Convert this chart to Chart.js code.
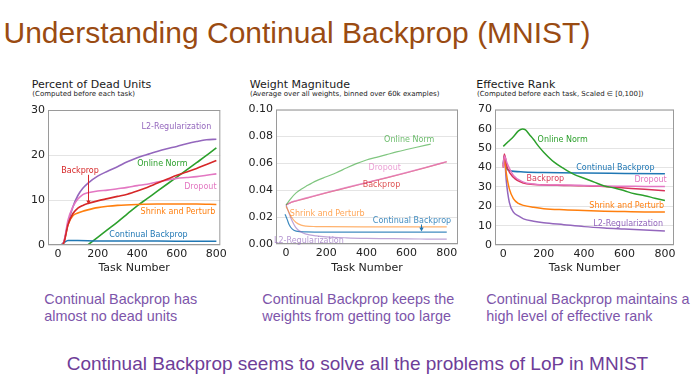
<!DOCTYPE html>
<html><head><meta charset="utf-8">
<script src="https://cdn.jsdelivr.net/npm/chart.js@4.4.1/dist/chart.umd.min.js"></script>
<style>
html,body{margin:0;padding:0;background:#fff;width:700px;height:382px;overflow:hidden;position:relative;}
.t{position:absolute;white-space:nowrap;}
.ct{font:11px/11px 'DejaVu Sans',sans-serif;color:#1a1a1a;top:79px;}
.cs{font:7px/7px 'DejaVu Sans',sans-serif;color:#222;top:91px;}
.cap{font:14.4px/16.7px 'Liberation Sans',Arial,sans-serif;color:#7d55aa;top:291px;}
canvas{position:absolute;}
</style></head><body>
<div class="t" style="left:3.5px;top:18.3px;font:30px/30px 'Liberation Sans',Arial,sans-serif;color:#9a4b12;">Understanding Continual Backprop (MNIST)</div>

<div class="t ct" style="left:31.7px">Percent of Dead Units</div>
<div class="t cs" style="left:32.3px">(Computed before each task)</div>
<div class="t ct" style="left:249.8px">Weight Magnitude</div>
<div class="t cs" style="left:250px">(Average over all weights, binned over 60k examples)</div>
<div class="t ct" style="left:476.3px">Effective Rank</div>
<div class="t cs" style="left:477px">(Computed before each task, Scaled ∈ [0,100])</div>

<canvas id="c1" width="215" height="180" style="left:15px;top:100px;width:215px;height:180px"></canvas>
<canvas id="c2" width="228" height="180" style="left:240px;top:100px;width:228px;height:180px"></canvas>
<canvas id="c3" width="215" height="180" style="left:470px;top:100px;width:215px;height:180px"></canvas>

<div class="t cap" style="left:44.3px">Continual Backprop has<br>almost no dead units</div>
<div class="t cap" style="left:262.3px">Continual Backprop keeps the<br>weights from getting too large</div>
<div class="t cap" style="left:486.3px">Continual Backprop maintains a<br>high level of effective rank</div>
<div class="t" style="left:66.7px;top:354px;font:19px/19px 'Liberation Sans',Arial,sans-serif;color:#6e3d98;">Continual Backprop seems to solve all the problems of LoP in MNIST</div>

<script>
// ---------- data ----------
const taskTicks = [0, 200, 400, 600, 800];

// Percent of dead units
const deadTicks = [0, 10, 20, 30];
const deadBackprop = [[20,0],[30,0.6],[50,4.5],[75,7],[100,8.2],[125,8.8],[150,9.2],[200,9.8],[250,10.3],[300,10.8],[350,11.3],[400,12],[450,12.8],[500,13.7],[550,14.6],[600,15.5],[650,16.2],[700,17],[750,17.9],[800,18.8]];
const deadDropout = [[20,0],[30,0.8],[50,5.5],[75,8.5],[100,10.2],[125,11.2],[150,11.6],[200,12],[250,12.2],[300,12.5],[350,12.8],[400,13.2],[450,13.5],[500,14],[550,14.4],[600,14.8],[650,15],[700,15.2],[750,15.5],[800,15.8]];
const deadL2 = [[20,0],[30,0.8],[50,4.8],[75,8.5],[100,11],[125,12.6],[150,13.7],[200,15.3],[250,16.4],[300,17.4],[350,18.5],[400,19.4],[450,20.1],[500,20.8],[550,21.4],[600,21.9],[650,22.5],[700,23],[750,23.4],[800,23.5]];
const deadShrink = [[20,0],[30,0.6],[50,4.5],[75,6.5],[100,7.1],[125,7.5],[150,7.8],[200,8.3],[250,8.6],[300,8.8],[400,9],[500,9.1],[600,9.1],[700,9.1],[800,9]];
const deadContinual = [[15,0],[30,0.5],[50,1.0],[100,1.0],[200,0.9],[400,0.9],[600,0.85],[800,0.85]];
const deadOnline = [[150,0],[200,1.7],[250,3.4],[300,5.1],[350,6.9],[400,8.7],[450,10.3],[500,11.9],[550,13.5],[600,15.1],[650,16.7],[700,18.3],[750,19.9],[800,21.6]];

// Weight magnitude
const weightTicks = [0, 0.02, 0.04, 0.06, 0.08, 0.10];
const wOnline = [[0,0.029],[10,0.031],[25,0.034],[50,0.038],[75,0.0408],[100,0.043],[150,0.047],[200,0.050],[250,0.053],[300,0.0565],[350,0.0598],[400,0.0625],[450,0.0645],[500,0.0665],[550,0.0685],[600,0.0703],[650,0.072],[720,0.0743]];
const wDropout = [[0,0.029],[25,0.031],[50,0.0322],[100,0.0342],[200,0.0382],[300,0.042],[400,0.0457],[500,0.0494],[600,0.0532],[700,0.0572],[800,0.0613]];
const wBackprop = [[0,0.029],[25,0.031],[50,0.032],[100,0.034],[200,0.038],[300,0.0418],[400,0.0455],[500,0.0492],[600,0.053],[700,0.057],[800,0.0612]];
const wShrink = [[0,0.028],[10,0.025],[25,0.0205],[50,0.016],[75,0.014],[100,0.0133],[150,0.013],[200,0.0129],[400,0.0128],[600,0.0128],[800,0.0128]];
const wContinual = [[-5,0.0222],[5,0.0185],[15,0.0145],[30,0.0112],[50,0.0096],[100,0.009],[200,0.0088],[400,0.0088],[600,0.0088],[800,0.0088]];
const wL2 = [[0,0.029],[10,0.025],[25,0.019],[50,0.012],[75,0.009],[100,0.0073],[150,0.006],[200,0.0053],[300,0.0046],[400,0.0042],[500,0.004],[600,0.0038],[700,0.0037],[800,0.0036]];

// Effective rank
const rankTicks = [0, 10, 20, 30, 40, 50, 60, 70];
const rOnline = [[0,51],[25,53.5],[50,56],[75,59],[95,60],[110,59.5],[130,57],[150,54.5],[175,51],[200,48],[250,43],[300,39.5],[350,36.5],[400,34.5],[450,32.5],[500,30.5],[550,29.5],[600,28],[650,26.5],[700,25.5],[750,24.2],[800,23]];
const rDropout = [[0,40],[5,46],[20,42],[50,36],[100,32.5],[150,31.5],[200,31],[300,31],[400,30.8],[500,30.5],[600,30.4],[700,30.3],[800,30.2]];
const rBackprop = [[0,41],[5,47],[20,40],[50,35],[100,32],[150,31.3],[200,31],[300,30.8],[400,30.6],[500,30.2],[600,29.5],[700,28.8],[800,28]];
const rShrink = [[0,40],[5,45],[15,37],[30,29],[50,24],[75,21.5],[100,20.5],[150,19.5],[200,18.8],[300,18.2],[400,17.8],[500,17.5],[600,17.3],[700,17.1],[800,17]];
const rL2 = [[0,40],[5,46],[15,33],[30,22],[50,17],[75,15],[100,13.5],[150,12.3],[200,11.5],[300,10.5],[400,9.5],[500,8.8],[600,8.3],[700,7.8],[800,7.3]];
const rContinual = [[0,42],[5,46],[15,40],[30,38.5],[100,37.8],[200,37.5],[400,37.2],[600,37],[800,36.8]];

// ---------- styling ----------
const C = {blue:'#1f77b4', orange:'#ff7f0e', green:'#2ca02c', red:'#d62728', purple:'#9467bd', pink:'#e377c2'};

const deadNotes = [
  {text:'L2-Regularization', x:598, y:26.3, color:C.purple},
  {text:'Online Norm', x:527, y:18.1, color:C.green},
  {text:'Backprop', x:111, y:16.5, color:C.red},
  {text:'Dropout', x:719, y:12.8, color:C.pink},
  {text:'Shrink and Perturb', x:606, y:7.3, color:C.orange},
  {text:'Continual Backprop', x:457, y:2.3, color:C.blue}
];
const deadArrows = [{x:153, y1:15.6, y2:9.0, color:C.red}];
const weightNotes = [
  {text:'Online Norm', x:613, y:0.0775, color:'rgba(44,160,44,0.7)'},
  {text:'Dropout', x:491, y:0.0568, color:'rgba(227,119,194,0.7)'},
  {text:'Backprop', x:475, y:0.044, color:'rgba(214,39,40,0.8)'},
  {text:'Shrink and Perturb', x:205, y:0.0225, color:'rgba(255,127,14,0.7)'},
  {text:'Continual Backprop', x:627, y:0.0175, color:'rgba(31,119,180,0.85)'},
  {text:'L2-Regularization', x:114, y:0.002, color:'rgba(148,103,189,0.7)'}
];
const weightArrows = [{x:673, y1:0.0145, y2:0.0093, color:C.blue}];
const rankNotes = [
  {text:'Online Norm', x:294, y:54.5, color:C.green},
  {text:'Continual Backprop', x:555, y:39.7, color:C.blue},
  {text:'Backprop', x:208, y:34.4, color:'#d83a5a'},
  {text:'Dropout', x:729, y:33.5, color:C.pink},
  {text:'Shrink and Perturb', x:611, y:20.1, color:C.orange},
  {text:'L2-Regularization', x:618, y:10.8, color:C.purple}
];

Chart.defaults.font.family = "'DejaVu Sans', sans-serif";
Chart.defaults.color = '#222';

const notesPlugin = {
  id: 'notes',
  afterDatasetsDraw(chart, args, opts) {
    const ctx = chart.ctx, xs = chart.scales.x, ys = chart.scales.y, a = chart.chartArea;
    ctx.save();
    ctx.strokeStyle = '#9a9a9a'; ctx.lineWidth = 1;
    ctx.strokeRect(a.left + 0.5, a.top + 0.5, a.right - a.left - 1, a.bottom - a.top - 1);
    ctx.font = "8px 'DejaVu Sans', sans-serif";
    ctx.textAlign = 'center'; ctx.textBaseline = 'middle';
    (opts.items || []).forEach(n => {
      ctx.fillStyle = n.color;
      ctx.fillText(n.text, xs.getPixelForValue(n.x), ys.getPixelForValue(n.y));
    });
    (opts.arrows || []).forEach(ar => {
      const px = Math.round(xs.getPixelForValue(ar.x)) + 0.5;
      const p1 = ys.getPixelForValue(ar.y1), p2 = ys.getPixelForValue(ar.y2);
      ctx.strokeStyle = ar.color; ctx.fillStyle = ar.color; ctx.lineWidth = 1;
      ctx.beginPath(); ctx.moveTo(px, p1); ctx.lineTo(px, p2 - 3); ctx.stroke();
      ctx.beginPath(); ctx.moveTo(px - 2.2, p2 - 4); ctx.lineTo(px + 2.2, p2 - 4); ctx.lineTo(px, p2); ctx.closePath(); ctx.fill();
    });
    ctx.restore();
  }
};

function ds(label, pts, color, width) {
  return {label, data: pts.map(p => ({x: p[0], y: p[1]})), borderColor: color, borderWidth: width,
          pointRadius: 0, fill: false, cubicInterpolationMode: 'monotone'};
}

function makeChart(id, cfg) {
  return new Chart(document.getElementById(id), {
    type: 'line',
    data: {datasets: cfg.datasets},
    plugins: [notesPlugin],
    options: {
      responsive: false, animation: false, devicePixelRatio: 1,
      layout: {padding: {left: 0, top: cfg.padTop, right: cfg.padRight, bottom: 0}},
      plugins: {legend: {display: false}, tooltip: {enabled: false},
                notes: {items: cfg.notes, arrows: cfg.arrows}},
      scales: {
        x: {type: 'linear', min: cfg.xMin, max: cfg.xMax,
            afterBuildTicks: s => { s.ticks = taskTicks.map(v => ({value: v})); },
            afterFit: s => { s.height = cfg.xHeight; },
            grid: {display: false, drawTicks: false}, border: {display: false},
            ticks: {padding: 3, autoSkip: false, maxRotation: 0, color: '#222', font: {size: 11}},
            title: {display: true, text: 'Task Number', color: '#222', font: {size: 11},
                    padding: {top: 0, bottom: 5.4}}},
        y: {min: cfg.yMin, max: cfg.yMax,
            afterBuildTicks: s => { s.ticks = cfg.yTicks.map(v => ({value: v})); },
            afterFit: s => { s.width = cfg.yWidth; },
            grid: {color: '#e4e4e4', drawTicks: false}, border: {display: false},
            ticks: {padding: 3, color: '#222', font: {size: 11}, callback: cfg.yFmt}}
      }
    }
  });
}

makeChart('c1', {
  datasets: [ds('Backprop', deadBackprop, C.red, 1.6), ds('Dropout', deadDropout, C.pink, 1.6),
             ds('L2-Regularization', deadL2, C.purple, 1.6), ds('Shrink and Perturb', deadShrink, C.orange, 1.6),
             ds('Continual Backprop', deadContinual, C.blue, 1.6), ds('Online Norm', deadOnline, C.green, 1.6)],
  notes: deadNotes, arrows: deadArrows,
  xMin: -51, xMax: 820, yMin: 0, yMax: 30, yTicks: deadTicks, yFmt: v => String(v),
  padTop: 10, padRight: 6, yWidth: 33, xHeight: 35
});

makeChart('c2', {
  datasets: [ds('Online Norm', wOnline, 'rgba(44,160,44,0.6)', 1.2), ds('Dropout', wDropout, 'rgba(227,119,194,0.7)', 1.4),
             ds('Backprop', wBackprop, 'rgba(214,39,40,0.6)', 1.2), ds('Shrink and Perturb', wShrink, 'rgba(255,127,14,0.6)', 1.2),
             ds('L2-Regularization', wL2, 'rgba(148,103,189,0.6)', 1.2), ds('Continual Backprop', wContinual, 'rgba(31,119,180,0.85)', 1.2)],
  notes: weightNotes, arrows: weightArrows,
  xMin: -50, xMax: 856, yMin: 0, yMax: 0.10, yTicks: weightTicks, yFmt: v => Number(v).toFixed(2),
  padTop: 9, padRight: 10, yWidth: 36, xHeight: 36
});

makeChart('c3', {
  datasets: [ds('Online Norm', rOnline, C.green, 1.5), ds('Dropout', rDropout, C.pink, 1.5),
             ds('Backprop', rBackprop, '#d8335a', 1.5), ds('Shrink and Perturb', rShrink, C.orange, 1.5),
             ds('L2-Regularization', rL2, C.purple, 1.5), ds('Continual Backprop', rContinual, C.blue, 1.5)],
  notes: rankNotes, arrows: [],
  xMin: -41, xMax: 845, yMin: 0, yMax: 70, yTicks: rankTicks, yFmt: v => String(v),
  padTop: 9, padRight: 11, yWidth: 25, xHeight: 35
});
</script>
</body></html>
